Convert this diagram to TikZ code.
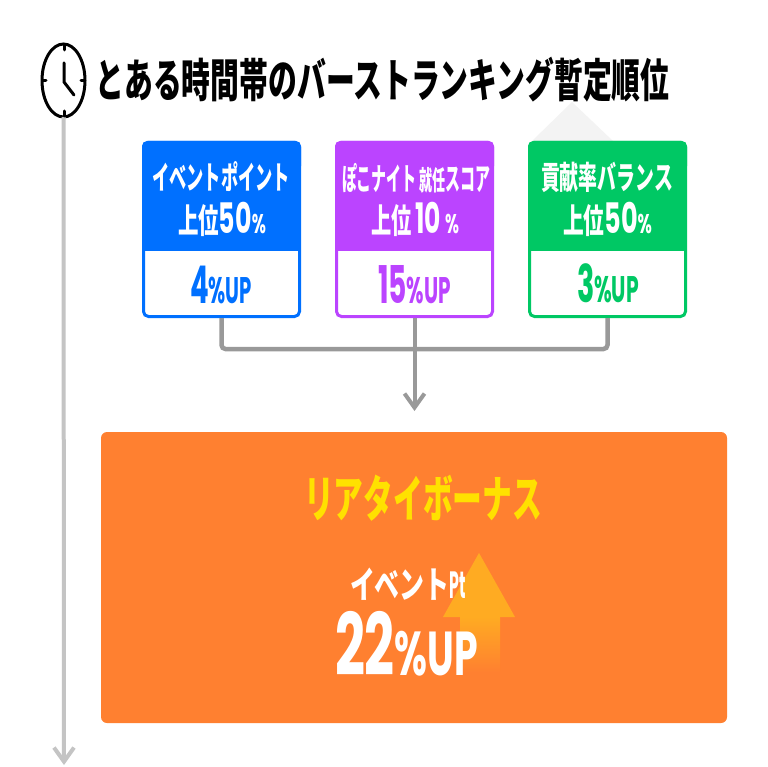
\documentclass[tikz,border=0pt]{standalone}
\usepackage{graphicx}
\usepackage{fontspec}
\setmainfont{Noto Sans CJK JP}
\newfontfamily\jp{Noto Sans CJK JP}
\newfontfamily\lat{Poppins}
\usetikzlibrary{arrows.meta,shapes.geometric}
\definecolor{cblue}{HTML}{0070FF}
\definecolor{cpurple}{HTML}{BB44FF}
\definecolor{cgreen}{HTML}{00C864}
\definecolor{corange}{HTML}{FF8030}
\definecolor{cyellow}{HTML}{FFE100}
\definecolor{cgrey}{HTML}{999999}
\definecolor{cline}{HTML}{C4C4C4}
\definecolor{camber}{HTML}{FFAB22}
\definecolor{cfaint}{HTML}{F3F3F3}
\newcommand{\fitw}[3]{\resizebox{#1pt}{\height}{\fontsize{#2}{#2}\selectfont\bfseries #3}}
\newcommand{\jf}[2]{{\jp\fontsize{#1}{#1}\selectfont\bfseries #2}}
\newcommand{\lf}[2]{{\lat\fontsize{#1}{#1}\selectfont\bfseries #2}}
\tikzset{
  card/.style={draw=#1,line width=3pt,fill=white,rounded corners=5pt,minimum width=156pt,minimum height=174pt,inner sep=0pt},
  label/.style={inner sep=0pt,outer sep=0pt,anchor=center},
  wire/.style={draw=cgrey,line width=4.5pt,rounded corners=4pt},
  flow/.style={draw=cgrey,line width=4pt,-{Straight Barb[length=14pt,width=20pt,line width=4pt]}},
  timeline/.style={draw=cline,line width=4pt,-{Straight Barb[length=14pt,width=20pt,line width=4pt]}},
  clockline/.style={draw=black,line width=3pt,line cap=round},
  clockface/.style={draw=black,line width=3pt,fill=white,ellipse,minimum width=43pt,minimum height=73pt,inner sep=0pt,outer sep=0pt},
}
\begin{document}
\begin{tikzpicture}[x=1pt,y=-1pt]
\useasboundingbox (0,0) rectangle (767,767);
\fill[white] (0,0) rectangle (767,767);
% timeline
\coordinate (tlend) at (64,765);
\node[clockface] (clock) at (63.5,80.5) {};
\draw[timeline] (clock.south) -- (tlend);
% clock hands and ticks
\draw[clockline] (64,63) -- (64,82) -- (74,95);
\draw[clockline] (64,45) -- (64,50) (64,111) -- (64,116) (43,80.5) -- (46,80.5) (81,80.5) -- (84,80.5);
% faint triangle
\fill[cfaint] (532,141) -- (572,102) -- (613,141) -- cycle;
% title
\node[label] (title) at (382.5,79.5) {\fitw{574}{46}{\jp とある時間帯のバーストランキング暫定順位}};
% cards
\node[card=cblue] (c1) at (221.5,229.5) {};
\node[card=cpurple] (c2) at (414.5,229.5) {};
\node[card=cgreen] (c3) at (607.5,229.5) {};
\foreach \n/\col in {c1/cblue,c2/cpurple,c3/cgreen}{
  \fill[\col,rounded corners=5pt] (\n.north west) rectangle ++(159,30);
  \fill[\col] (\n.north west) ++(0,10) rectangle ++(159,100);
}
% card text
\node[label,white] (t11) at (221,177) {\fitw{138}{32}{\jp イベントポイント}};
\node[label,white] (t12) at (222,219) {\fitw{88}{40}{\jf{34}{上位}\lf{42}{50}\lf{27}{\%}}};
\node[label,cblue] (t13) at (221,284.5) {\fitw{62}{50}{\lf{52}{4}\lf{37}{\%UP}}};
\node[label,white] (t21) at (416,178) {\fitw{148}{30}{\jf{31}{ぽこナイト}\,\jf{27}{就任}\jf{31}{スコア}}};
\node[label,white] (t22) at (415,219) {\fitw{88}{40}{\jf{34}{上位}\,\lf{42}{10}\,\lf{27}{\%}}};
\node[label,cpurple] (t23) at (414.5,284.5) {\fitw{73}{50}{\lf{52}{15}\lf{37}{\%UP}}};
\node[label,white] (t31) at (607,177) {\fitw{132}{32}{\jp 貢献率バランス}};
\node[label,white] (t32) at (607.5,219) {\fitw{89}{40}{\jf{34}{上位}\lf{42}{50}\lf{27}{\%}}};
\node[label,cgreen] (t33) at (608,283.5) {\fitw{62}{50}{\lf{52}{3}\lf{37}{\%UP}}};
% connectors
\coordinate (busmid) at (414.5,349);
\coordinate (target) at (414.5,411);
\draw[wire] (c1.south) |- (busmid) -| (c3.south);
\draw[flow] (c2.south) -- (target);
% bonus panel
\node[fill=corange,rounded corners=6pt,minimum width=626pt,minimum height=291pt,inner sep=0pt] (panel) at (414,577.5) {};
% up arrow
\fill[camber] (479,553) -- (515,617) -- (443,617) -- cycle;
\shade[top color=camber,bottom color=corange] (460,617) rectangle (500,672);
\node[label,cyellow] (bonus) at (423,498.5) {\fitw{238}{50}{\jp リアタイボーナス}};
\node[label,white] (pt) at (408,584) {\fitw{116}{36}{\jf{37}{イベント}\scalebox{0.62}[1]{\lf{38}{Pt}}}};
\node[label,white] (pct) at (406.5,644) {\fitw{143}{82}{\lf{86}{22}\lf{62}{\%UP}}};
\end{tikzpicture}
\end{document}
